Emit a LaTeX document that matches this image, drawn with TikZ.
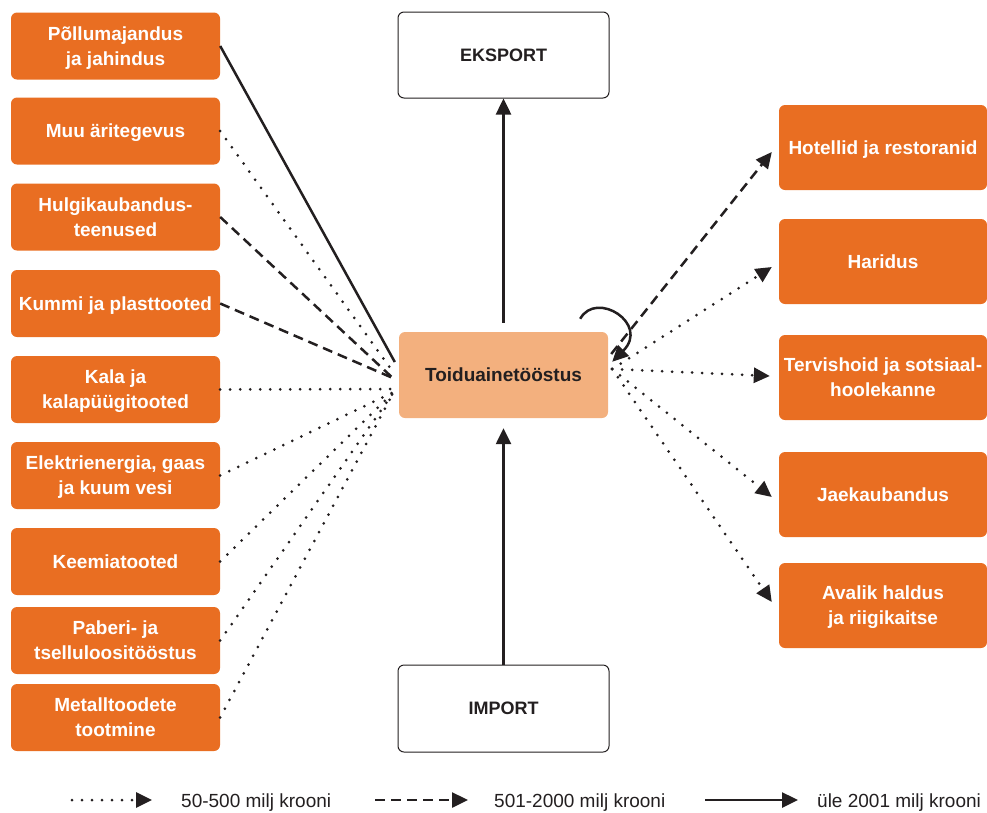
\documentclass[tikz,border=0pt]{standalone}
\usepackage{fontspec}
\setmainfont{Liberation Sans}
\usetikzlibrary{arrows.meta}
\definecolor{boxorange}{HTML}{E96E22}
\definecolor{corefill}{HTML}{F3B07E}
\definecolor{ink}{HTML}{231F20}

\begin{document}
\begin{tikzpicture}[x=1pt,y=-1pt,
  sector/.style={fill=boxorange, rounded corners=6pt, text=white,
    font=\bfseries\fontsize{19}{25}\selectfont, align=center, inner sep=2pt,
    text depth=0pt},
  leftbox/.style={sector, minimum width=209pt, minimum height=67pt},
  rightbox/.style={sector, minimum width=208pt, minimum height=85pt},
  core/.style={fill=corefill, rounded corners=6pt, text=ink,
    font=\bfseries\fontsize{19}{25}\selectfont, minimum width=209pt, minimum height=86pt},
  trade/.style={draw=ink, line width=1pt, fill=white, rounded corners=6pt, text=ink,
    font=\bfseries\fontsize{18}{22}\selectfont, minimum width=211pt, minimum height=86pt},
  flow/.style={draw=ink, line width=2.5pt},
  small/.style={flow, line width=3pt, dash pattern=on 0pt off 10pt, line cap=round},
  medium/.style={flow, dash pattern=on 10pt off 6pt},
  large/.style={flow},
  tip/.style={-{Triangle[length=16pt,width=15pt]}},
  keytext/.style={anchor=base west, inner sep=0pt, text=ink, font=\fontsize{19}{22}\selectfont},
]
\useasboundingbox (0,0) rectangle (987,812);

% supplying sectors
\node[leftbox] (agri)   at (115.5,46)    {Põllumajandus\\ja jahindus};
\node[leftbox] (biz)    at (115.5,131)   {Muu äritegevus};
\node[leftbox] (whole)  at (115.5,217)   {Hulgikaubandus-\\teenused};
\node[leftbox] (rubber) at (115.5,303.5) {Kummi ja plasttooted};
\node[leftbox] (fish)   at (115.5,389.5) {Kala ja\\kalapüügitooted};
\node[leftbox] (energy) at (115.5,475.5) {Elektrienergia, gaas\\ja kuum vesi};
\node[leftbox] (chem)   at (115.5,561.5) {Keemiatooted};
\node[leftbox] (paper)  at (115.5,640.5) {Paberi- ja\\tselluloositööstus};
\node[leftbox] (metal)  at (115.5,717.5) {Metalltoodete\\tootmine};

% receiving sectors
\node[rightbox] (hotel)  at (883,147.5) {Hotellid ja restoranid};
\node[rightbox] (edu)    at (883,261.5) {Haridus};
\node[rightbox] (health) at (883,377.5) {Tervishoid ja sotsiaal-\\hoolekanne};
\node[rightbox] (retail) at (883,494.5) {Jaekaubandus};
\node[rightbox] (gov)    at (883,605.5) {Avalik haldus\\ja riigikaitse};

% food industry, export and import
\node[core] (core) at (503.5,375) {Toiduainetööstus};
\node[trade] (exp) at (503.5,55) {EKSPORT};
\node[trade, minimum height=87pt] (imp) at (503.5,708.5) {IMPORT};

% inflow end points on the food industry
\coordinate (j1) at ([shift={(-4,-13)}]core.west);
\coordinate (j2) at ([shift={(-5,-2)}]core.west);
\coordinate (j3) at ([shift={(-6,3)}]core.west);
\coordinate (j5) at ([shift={(-4,14)}]core.west);
\coordinate (j6) at ([shift={(-5,17)}]core.west);

\draw[large]  (agri.east)   -- (j1);
\draw[small]  (biz.east)    -- (j2);
\draw[medium] (whole.east)  -- (j3);
\draw[medium] (rubber.east) -- (j3);
\draw[small]  (fish.east)   -- (j5);
\draw[small]  (energy.east) -- (j6);
\draw[small]  (chem.east)   -- (j6);
\draw[small]  (paper.east)  -- (j6);
\draw[small]  (metal.east)  -- (j6);

% outflows
\coordinate (s1) at ([shift={(3,-21)}]core.east);
\coordinate (s2) at ([shift={(4,-6)}]core.east);
\draw[medium,tip] (s1) -- ([shift={(-7,4.5)}]hotel.west);
\draw[small,tip]  (s2) -- ([shift={(-7,5.5)}]edu.west);
\draw[small,tip]  (s2) -- ([shift={(-9,-1.5)}]health.west);
\draw[small,tip]  (s2) -- ([shift={(-7,2.5)}]retail.west);
\draw[small,tip]  (s2) -- ([shift={(-7,-3.5)}]gov.west);

\draw[large,tip] ([shift={(0,-9)}]core.north) -- (exp.south);
\draw[large,tip] (imp.north) -- ([shift={(0,10)}]core.south);

% own consumption
\draw[large,tip] ([shift={(-28,-13)}]core.north east)
  .. controls ([shift={(-12,-42)}]core.north east) and ([shift={(42,-8)}]core.north east)
  .. ([shift={(4,30)}]core.north east);

% legend
\coordinate (k1a) at (72,800);  \coordinate (k1b) at (152,800);
\coordinate (k2a) at (375,800); \coordinate (k2b) at (468,800);
\coordinate (k3a) at (705,800); \coordinate (k3b) at (798,800);
\draw[small,tip]  (k1a) -- (k1b);
\draw[medium,tip] (k2a) -- (k2b);
\draw[large,tip]  (k3a) -- (k3b);
\node[keytext] (k1t) at (181,807) {50-500 milj krooni};
\node[keytext] (k2t) at (494,807) {501-2000 milj krooni};
\node[keytext] (k3t) at (817,807) {üle 2001 milj krooni};
\end{tikzpicture}
\end{document}
